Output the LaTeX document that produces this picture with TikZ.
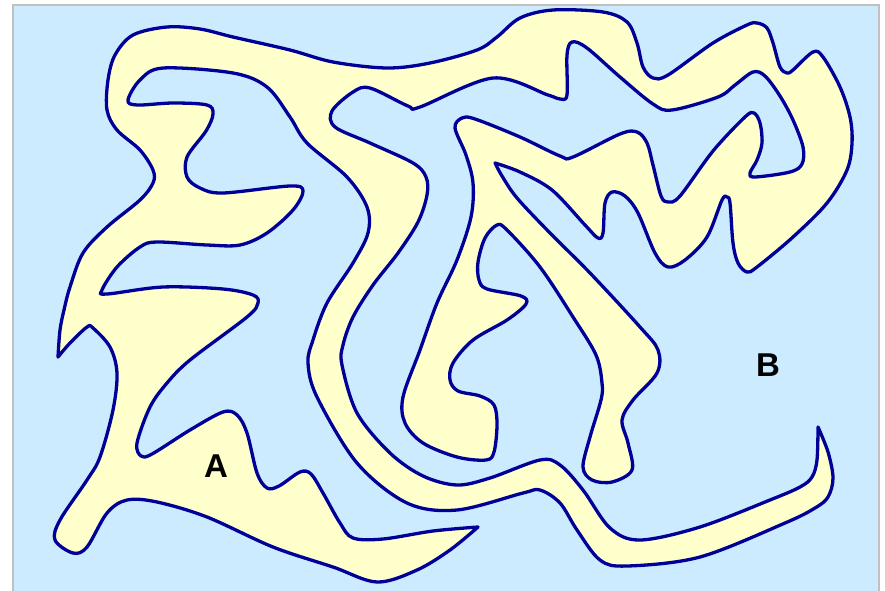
\documentclass[tikz,border=0pt]{standalone}
\usepackage{fontspec}
\setmainfont{Liberation Sans}
\definecolor{seablue}{HTML}{CCEBFF}
\definecolor{landyellow}{HTML}{FFFFCC}
\definecolor{coastblue}{HTML}{000099}
\definecolor{framegray}{HTML}{C0C0C0}
\begin{document}
\begin{tikzpicture}[x=1pt,y=-1pt,
    sea/.style={fill=seablue,draw=framegray,line width=2pt},
    land/.style={fill=landyellow,draw=coastblue,line width=3.3pt,line join=round},
    tag/.style={font=\fontsize{33}{33}\selectfont\bfseries,inner sep=0pt}]
  \clip (0,0) rectangle (885,590);
  % ---- the water ----
  \filldraw[sea] (13,5) rectangle (879,610);
  % ---- the one island, cut at its four sharp tips ----
  \filldraw[land]
    plot[smooth,tension=0.55] coordinates {(495,163) (502,176) (517,198) (550,233) (590,273) (640,327)
      (658,350) (657,373) (633,400) (622,420) (628,443) (632,470) (612,482) (592,480) (583,467)
      (590,437) (601,400) (602,383) (596,355) (573,317) (540,267) (507,230) (497,225) (485,238)
      (478,262) (479,280) (487,289) (521,296) (526,304) (507,320) (473,340) (453,363) (450,380)
      (458,391) (480,396) (494,405) (497,425) (494,452) (486,460) (457,457) (423,443) (405,423)
      (403,397) (420,350) (437,303) (457,260) (471,217) (473,183) (466,155) (455,128) (462,118)
      (475,119) (520,137) (560,156) (573,157) (620,134) (637,132) (647,143) (653,165) (661,196)
      (668,202) (680,196) (713,151) (745,117) (754,113) (760,123) (762,143) (757,160) (750,173)
      (755,177) (790,172) (802,164) (803,147) (793,120) (780,96) (765,76) (753,72) (735,85)
      (718,97) (672,110) (653,104) (620,77) (587,48) (572,42) (567,55) (567,95) (560,99)
      (548,95) (493,78) (420,107) (408,106) (370,88) (353,92) (332,111) (335,127) (370,143)
      (413,163) (426,177) (427,195) (418,222) (398,253) (373,285) (353,317) (343,345) (342,365)
      (357,413) (390,453) (423,476) (457,485) (490,478) (540,460) (560,465) (583,490) (610,528)
      (640,540) (700,527) (770,500) (800,487) (812,477) (817,460) (818,427)}
    -- plot[smooth,tension=0.55] coordinates {(818,427) (828,452) (833,478) (828,497) (815,508)
      (785,523) (700,557) (627,566) (600,560) (577,530) (560,503) (540,490) (523,493) (457,510)
      (407,503) (357,463) (317,397) (308,363) (313,340) (327,303) (353,263) (368,233) (367,207)
      (347,177) (307,143) (290,117) (267,87) (233,73) (163,68) (140,80) (128,100) (137,105)
      (173,103) (207,105) (213,114) (206,131) (187,157) (187,177) (200,188) (223,193) (290,186)
      (303,191) (293,210) (267,233) (240,245) (207,245) (157,242) (140,247) (117,267) (102,290)
      (107,294) (163,287) (223,289) (253,295) (258,303) (247,317) (190,360) (167,383) (150,407)
      (137,443) (141,456) (152,454) (190,430) (223,412) (237,415) (247,433) (257,473) (267,488)
      (279,486) (300,472) (311,474) (323,493) (340,523) (353,538) (383,539) (433,531) (478,527)}
    -- plot[smooth,tension=0.55] coordinates {(478,527) (450,550) (417,570) (377,582) (333,567)
      (273,547) (207,517) (157,502) (127,500) (107,513) (87,547) (73,553) (55,540) (60,520)
      (87,480) (100,457) (113,410) (117,373) (110,347) (93,328) (87,327) (70,343) (58,357)}
    -- plot[smooth,tension=0.55] coordinates {(58,357) (60,330) (64,310) (70,287) (83,253)
      (107,227) (140,200) (153,183) (153,170) (140,150) (117,130) (107,110) (108,80) (115,55)
      (133,35) (167,27) (200,29) (233,37) (290,50) (333,62) (387,68) (430,63) (477,50) (497,37)
      (520,18) (553,10) (603,12) (627,22) (637,43) (643,67) (653,78) (668,75) (713,43) (747,25)
      (757,23) (767,28) (773,43) (780,67) (787,73) (793,70) (813,52) (823,57) (840,87) (850,117)
      (852,143) (847,170) (827,203) (793,237) (757,267) (747,272) (738,263) (733,243) (730,203)
      (727,197) (722,200) (707,237) (685,260) (668,267) (655,253) (638,213) (625,196) (612,192)
      (605,203) (603,233) (598,238) (585,225) (552,190) (520,172) (495,163)}
    -- cycle;
  % ---- the two places ----
  \node[tag] (ptA) at (216,466) {A};
  \node[tag] (ptB) at (768,365) {B};
\end{tikzpicture}
\end{document}
